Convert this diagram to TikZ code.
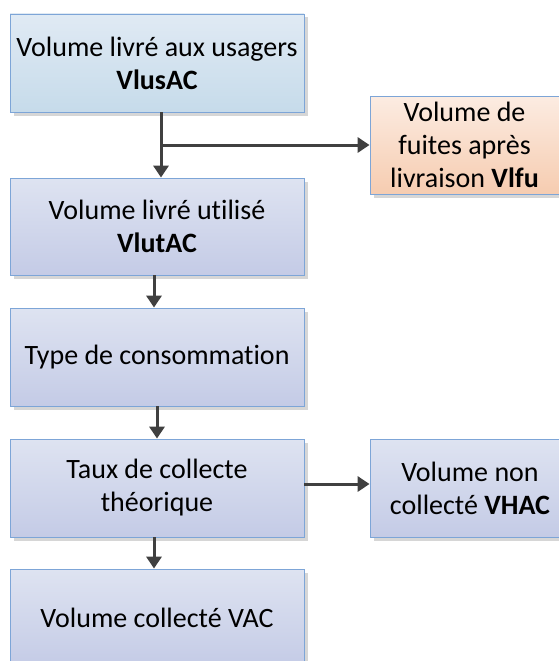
\documentclass[tikz,border=0pt]{standalone}
\usepackage{fontspec}
\setmainfont{Carlito}[Ligatures=NoCommon]
\usetikzlibrary{arrows.meta,shadows}
\definecolor{edgeblue}{RGB}{125,165,215}
\definecolor{bluetop}{RGB}{224,234,244}
\definecolor{bluebot}{RGB}{198,219,234}
\definecolor{lavtop}{RGB}{222,227,241}
\definecolor{lavbot}{RGB}{196,203,230}
\definecolor{peachtop}{RGB}{252,236,226}
\definecolor{peachbot}{RGB}{246,204,176}
\definecolor{arrowgrey}{RGB}{64,64,64}
\definecolor{shadowgrey}{RGB}{214,214,214}
\begin{document}
\begin{tikzpicture}[x=1pt,y=-1pt,
  box/.style={draw=edgeblue, line width=0.8pt, rectangle, align=center,
    inner sep=0pt, font=\fontsize{28}{33}\selectfont,
    drop shadow={shadow xshift=3.5pt, shadow yshift=-3.5pt, fill=shadowgrey, opacity=1}},
  bluebox/.style={box, top color=bluetop, bottom color=bluebot},
  lavbox/.style={box, top color=lavtop, bottom color=lavbot},
  peachbox/.style={box, top color=peachtop, bottom color=peachbot},
  flow/.style={draw=arrowgrey, line width=3pt,
    -{Triangle[length=12pt,width=15pt]}}
]
\useasboundingbox (0,0) rectangle (559,661);
\clip (0,0) rectangle (559,661);

\node[bluebox, minimum width=294pt, minimum height=98pt] (usagers) at (157,63)
  {Volume livré aux usagers\\\textbf{VlusAC}};
\node[peachbox, minimum width=189pt, minimum height=98pt] (fuites) at (464.5,145)
  {Volume de\\fuites après\\livraison \textbf{Vlfu}};
\node[lavbox, minimum width=294pt, minimum height=97pt] (utilise) at (157,226.5)
  {Volume livré utilisé\\\textbf{VlutAC}};
\node[lavbox, minimum width=294pt, minimum height=98pt] (conso) at (157,357)
  {Type de consommation};
\node[lavbox, minimum width=294pt, minimum height=98pt] (taux) at (157,488)
  {Taux de collecte\\théorique};
\node[lavbox, minimum width=200pt, minimum height=98pt] (vhac) at (470,488)
  {Volume non\\collecté \textbf{VHAC}};
\node[lavbox, minimum width=294pt, minimum height=98pt] (vac) at (157,618)
  {Volume collecté VAC};

\coordinate (branch) at (161,145);
\draw[flow] ([xshift=4pt]usagers.south) -- ([xshift=4pt]utilise.north);
\draw[flow] (branch) -- (fuites.west);
\draw[flow] ([xshift=-3pt]utilise.south) -- ([xshift=-3pt]conso.north);
\draw[flow] (conso.south) -- (taux.north);
\draw[flow] ([xshift=-3pt]taux.south) -- ([xshift=-3pt]vac.north);
\draw[flow] ([yshift=4pt]taux.east) -- ([yshift=4pt]vhac.west);
\end{tikzpicture}
\end{document}
